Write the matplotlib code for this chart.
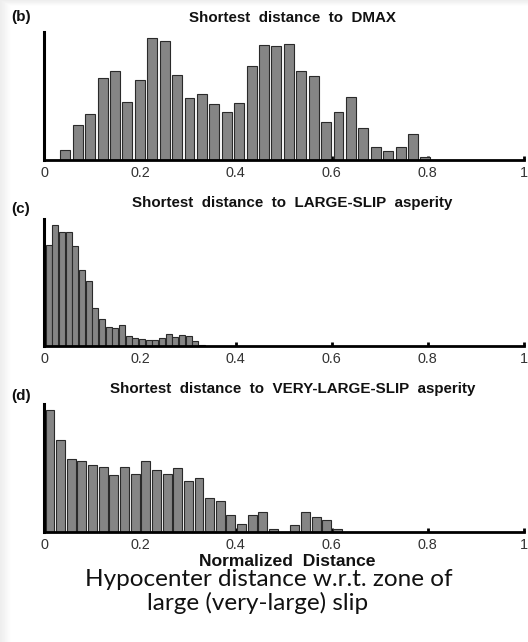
import numpy as np
import matplotlib.pyplot as plt

# histogram counts per bin (arbitrary units) and bin layout for each panel
dmax_counts = [10.3, 34.7, 46, 82, 89, 57.7, 80, 122, 119.3, 84.7,
               61.7, 65.7, 56, 48.3, 56.7, 94, 114.7, 114.3, 116.3, 89.3,
               84, 37.7, 48, 62.7, 31.7, 12.7, 9, 12.7, 26.3, 3]
dmax_start, dmax_step = 0.0444, 0.0259

large_counts = [101, 121, 114.3, 114.3, 100.3, 76, 65.3, 37.7, 27, 18.7,
                17.7, 21.3, 10.3, 8, 6.7, 5.7, 5.7, 7.7, 11.5, 8.7,
                11, 10.3, 5, 0.8]
large_start, large_step = 0.0098, 0.0139

vlarge_counts = [122.3, 92.5, 73.2, 71.3, 66.8, 64.8, 56.8, 65.2, 58, 71.7,
                 62.3, 58.5, 63.8, 51.5, 54.2, 34.7, 31.2, 17.2, 8.2, 17.3,
                 20, 3, 0, 7, 20, 15, 12.2, 3.8]
vlarge_start, vlarge_step = 0.0125, 0.0222

xticks = [0, 0.2, 0.4, 0.6, 0.8, 1]
xtick_labels = ['0', '0.2', '0.4', '0.6', '0.8', '1']

panels = [
    ('(b)', 'Shortest  distance  to  DMAX', dmax_counts, dmax_start, dmax_step, 0.80),
    ('(c)', 'Shortest  distance  to  LARGE-SLIP  asperity', large_counts, large_start, large_step, 0.90),
    ('(d)', 'Shortest  distance  to  VERY-LARGE-SLIP  asperity', vlarge_counts, vlarge_start, vlarge_step, 0.84),
]

W, H = 528, 642
fig = plt.figure(figsize=(W / 100, H / 100), dpi=100)
fig.patch.set_facecolor('white')

# soft grey shading along the left and top edges
bg = fig.add_axes([0, 0, 1, 1], zorder=-10)
xs = np.arange(W)
ys = np.arange(H)
left = np.clip(1 - xs / 11.0, 0, 1)
top = np.clip(1 - ys / 6.0, 0, 1)
shade = np.maximum(left[None, :], top[:, None])
img = 1 - 0.07 * shade
bg.imshow(img, cmap='gray', vmin=0, vmax=1, aspect='auto', extent=[0, W, H, 0])
bg.axis('off')

plt.rcParams['font.family'] = ['Liberation Sans', 'DejaVu Sans']

# axes boxes in pixels: (baseline y, top y)
boxes = [(160, 32), (346, 219), (532.3, 404)]
x0, x1 = 44, 523.5

title_y = [18, 203, 389.5]
label_y = [17.5, 209, 396]

for i, (tag, title, counts, start, step, frac) in enumerate(panels):
    base, top_px = boxes[i]
    ax = fig.add_axes([x0 / W, 1 - base / H, (x1 - x0) / W, (base - top_px) / H])
    centers = start + step * np.arange(len(counts))
    ax.bar(centers, counts, width=step * frac, color='#858585',
           edgecolor='#2a2a2a', linewidth=0.8, zorder=2)
    ax.set_xlim(0, 1)
    ax.set_ylim(0, base - top_px)
    ax.set_yticks([])
    ax.set_xticks(xticks)
    ax.set_xticklabels(xtick_labels)
    ax.tick_params(axis='x', direction='in', length=3, width=2, pad=4,
                   labelsize=10.4, labelcolor='#333333', color='black')
    for s in ['top', 'right']:
        ax.spines[s].set_visible(False)
    ax.spines['left'].set_linewidth(2.2)
    ax.spines['bottom'].set_linewidth(2.0)
    ax.patch.set_alpha(0)

    fig.text(292.5 / W, 1 - title_y[i] / H, title, ha='center', va='center',
             fontsize=10.9, fontweight='bold', color='#111111')
    fig.text(11.5 / W, 1 - label_y[i] / H, tag, ha='left', va='center',
             fontsize=11, fontweight='bold', color='#111111')

    if i == 2:
        fig.text(287.5 / W, 1 - 566.5 / H, 'Normalized  Distance', ha='center',
                 va='baseline', fontsize=12.6, fontweight='bold', color='#111111')

fig.text(269 / W, 1 - 586 / H, 'Hypocenter distance w.r.t. zone of',
         ha='center', va='baseline', fontsize=17.5, family='Lato', color='#111111')
fig.text(257.5 / W, 1 - 610 / H, 'large (very-large) slip',
         ha='center', va='baseline', fontsize=17.5, family='Lato', color='#111111')

fig.savefig('out.png', dpi=100)
